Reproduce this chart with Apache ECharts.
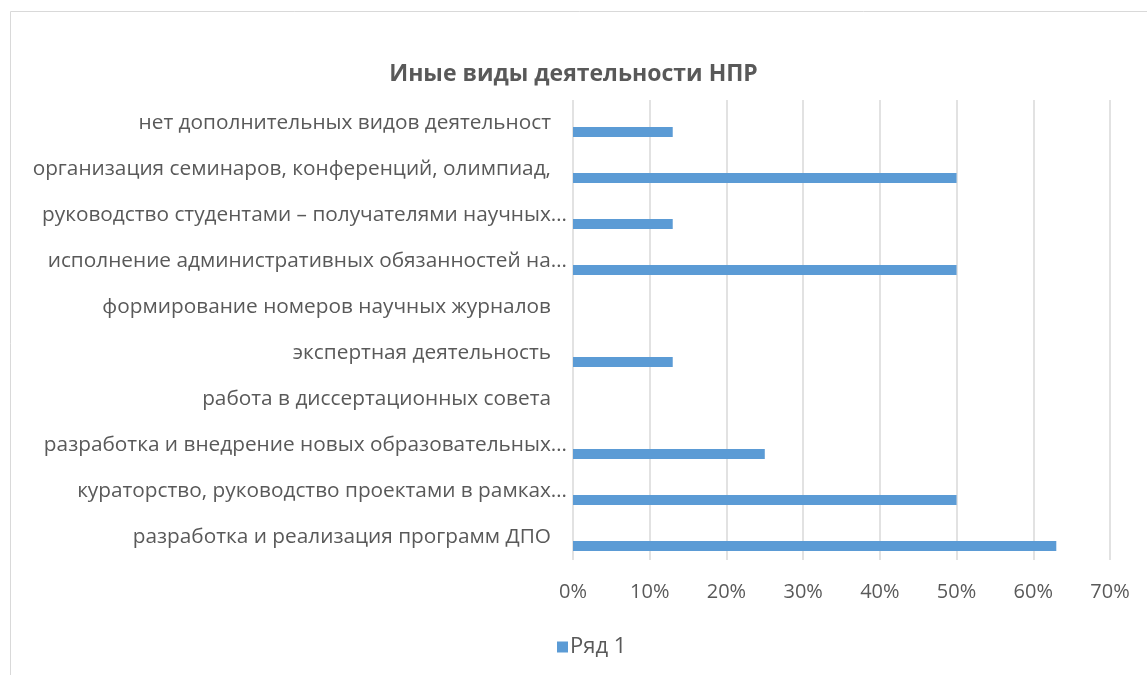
<!DOCTYPE html>
<html>
<head>
<meta charset="utf-8">
<script src="https://cdn.jsdelivr.net/npm/echarts@6/dist/echarts.min.js"></script>
<style>
  html, body { margin: 0; padding: 0; background: #fff; }
  #chart { width: 1147px; height: 675px; }
</style>
</head>
<body>
<div id="chart"></div>
<script>
// categories, bottom to top (as Excel draws them)
const categories = [
    'разработка и реализация программ ДПО',
    'кураторство, руководство проектами в рамках…',
    'разработка и внедрение новых образовательных…',
    'работа в диссертационных совета',
    'экспертная деятельность',
    'формирование номеров научных журналов',
    'исполнение административных обязанностей на…',
    'руководство студентами – получателями научных…',
    'организация семинаров, конференций, олимпиад,',
    'нет дополнительных видов деятельност'
]
// percent
const row1 = [63, 50, 25, 0, 13, 0, 50, 13, 50, 13]
const xTicks = [0, 10, 20, 30, 40, 50, 60, 70]

const textColor = '#595959'
const font = '"Open Sans", "Noto Sans", sans-serif'

const chart = echarts.init(document.getElementById('chart'))
chart.setOption({
    animation: false,
    title: {
        text: 'Иные виды деятельности НПР',
        left: 'center',
        top: 58,
        textStyle: {
            color: textColor,
            fontSize: 23,
            fontWeight: 'bold',
            fontFamily: font
        }
    },
    graphic: [{
        type: 'rect',
        shape: { x: 10.5, y: 11.5, width: 1200, height: 700 },
        style: { fill: 'none', stroke: '#d9d9d9', lineWidth: 1 },
        silent: true
    }],
    legend: {
        data: ['Ряд 1'],
        bottom: 12,
        left: 552,
        itemWidth: 11,
        itemHeight: 11,
        itemGap: 4,
        icon: 'rect',
        textStyle: { color: textColor, fontSize: 22, fontFamily: font, padding: [0, 0, 0, -3] }
    },
    grid: {
        left: 573,
        right: 37,
        top: 100,
        bottom: 115
    },
    xAxis: {
        type: 'value',
        min: xTicks[0],
        max: xTicks[xTicks.length - 1],
        interval: 10,
        axisLine: { show: false },
        axisTick: { show: false },
        splitLine: { lineStyle: { color: '#d9d9d9', width: 1.5 } },
        axisLabel: {
            margin: 22,
            color: textColor,
            fontSize: 20,
            fontFamily: font,
            formatter: '{value}%'
        }
    },
    yAxis: {
        type: 'category',
        data: categories,
        axisLine: { show: false },
        axisTick: { show: false },
        axisLabel: {
            margin: 6,
            color: textColor,
            fontSize: 20.8,
            fontFamily: font,
            formatter: v => v.endsWith('…') ? v : v + '{p|}',
            rich: { p: { width: 16 } }
        }
    },
    series: [
        {
            // empty slot so the bar sits low in its band, like the original
            name: 'gap',
            type: 'bar',
            data: categories.map(() => null),
            barWidth: 10,
            barGap: '80%'
        },
        {
            name: 'Ряд 1',
            type: 'bar',
            data: row1,
            barWidth: 10,
            barGap: '80%',
            itemStyle: { color: '#5b9bd5' }
        }
    ]
}, true, false)
</script>
</body>
</html>
